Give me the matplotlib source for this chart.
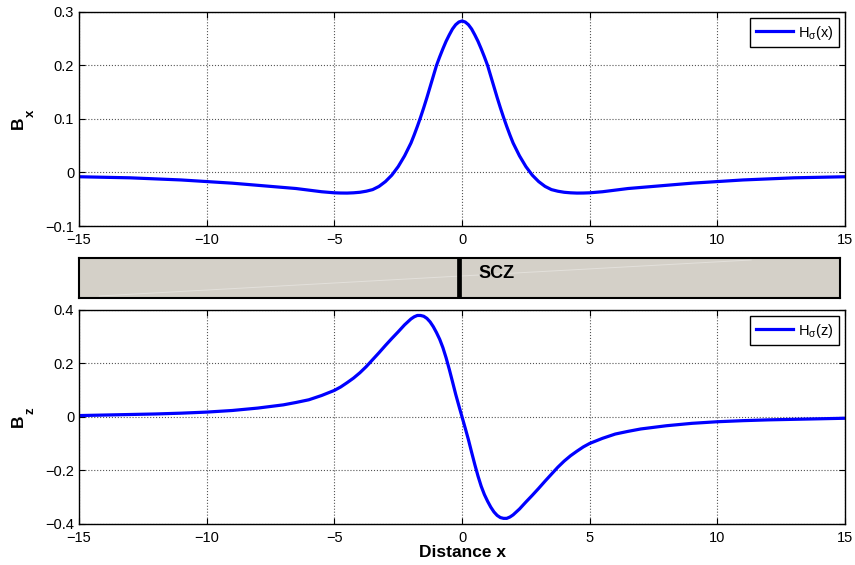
import matplotlib
matplotlib.use("Agg")
import matplotlib.pyplot as plt
import numpy as np

plt.rcParams["font.family"] = ["Liberation Sans", "DejaVu Sans"]
plt.rcParams["mathtext.fontset"] = "custom"
plt.rcParams["mathtext.rm"] = "Liberation Sans"
plt.rcParams["mathtext.it"] = "Liberation Sans"
plt.rcParams["mathtext.bf"] = "Liberation Sans:bold"

# values (right half, x >= 0)
x_half = [0, 0.125, 0.25, 0.375, 0.5, 0.625, 0.75, 0.875, 1.0, 1.125, 1.25, 1.375,
          1.5, 1.625, 1.75, 1.875, 2.0, 2.25, 2.5, 2.75, 3.0, 3.25, 3.5, 3.75,
          4.0, 4.25, 4.5, 4.75, 5.0, 5.5, 6, 6.5, 7, 8, 9, 10, 11, 12, 13, 14, 15]
bx_half = [0.283, 0.281, 0.276, 0.268, 0.257, 0.245, 0.231, 0.216, 0.200, 0.180,
           0.160, 0.140, 0.121, 0.103, 0.086, 0.070, 0.055, 0.031, 0.011, -0.005,
           -0.017, -0.026, -0.032, -0.035, -0.037, -0.038, -0.0385, -0.0384, -0.038,
           -0.036, -0.033, -0.030, -0.028, -0.024, -0.020, -0.017, -0.014, -0.012,
           -0.010, -0.009, -0.008]
bz_half = [0.0, -0.042, -0.085, -0.132, -0.178, -0.221, -0.259, -0.290, -0.315,
           -0.337, -0.355, -0.368, -0.376, -0.379, -0.379, -0.374, -0.366, -0.344,
           -0.318, -0.293, -0.267, -0.240, -0.214, -0.188, -0.165, -0.145, -0.128,
           -0.112, -0.099, -0.080, -0.064, -0.054, -0.045, -0.033, -0.024, -0.018,
           -0.014, -0.011, -0.009, -0.007, -0.005]

x = np.concatenate([-np.array(x_half[:0:-1]), x_half])
bx = np.concatenate([bx_half[:0:-1], bx_half])           # symmetric
bz = np.concatenate([-np.array(bz_half[:0:-1]), bz_half])  # antisymmetric

fig = plt.figure(figsize=(8.55, 5.65), dpi=100)
ax1 = fig.add_axes([0.0924, 0.600, 0.896, 0.379])
band = fig.add_axes([0.0924, 0.4726, 0.890, 0.0708])
ax2 = fig.add_axes([0.0924, 0.0726, 0.896, 0.379])


def style(ax):
    ax.grid(True, linestyle=":", color="#555555", linewidth=0.8)
    ax.tick_params(direction="in", top=True, right=True, length=4,
                   labelsize=10.5, width=0.8)
    ax.tick_params(axis="x", pad=5)
    ax.set_xlim(-15, 15)
    ax.set_xticks([-15, -10, -5, 0, 5, 10, 15])
    ax.set_xticklabels(["\u221215", "\u221210", "\u22125", "0", "5", "10", "15"])
    for s in ax.spines.values():
        s.set_linewidth(1.0)


ax1.plot(x, bx, color="#0000ff", linewidth=2.3, label=r"H$_\sigma$(x)",
         solid_joinstyle="round")
style(ax1)
ax1.set_ylim(-0.1, 0.3)
ax1.set_yticks([-0.1, 0, 0.1, 0.2, 0.3])
ax1.set_yticklabels(["\u22120.1", "0", "0.1", "0.2", "0.3"])

ax2.plot(x, bz, color="#0000ff", linewidth=2.3, label=r"H$_\sigma$(z)",
         solid_joinstyle="round")
style(ax2)
ax2.set_ylim(-0.4, 0.4)
ax2.set_yticks([-0.4, -0.2, 0, 0.2, 0.4])
ax2.set_yticklabels(["\u22120.4", "\u22120.2", "0", "0.2", "0.4"])
ax2.set_xlabel("Distance x", fontsize=12.5, fontweight="bold", labelpad=0)

# y labels: bold B with a lowered subscript (rotated)
for yc, sub in ((119, "x"), (417, "z")):
    fig.text(18 / 855, 1 - (yc + 3.5) / 565, "B", rotation=90, fontsize=12.5,
             fontweight="bold", ha="center", va="center")
    fig.text(30.5 / 855, 1 - (yc - 6) / 565, sub, rotation=90, fontsize=9.5,
             fontweight="bold", ha="center", va="center")

for ax in (ax1, ax2):
    leg = ax.legend(loc="upper right", fontsize=10.5, fancybox=False,
                    framealpha=1, edgecolor="black", handlelength=2.6,
                    handletextpad=0.3, borderpad=0.4, borderaxespad=0.4)
    leg.get_frame().set_linewidth(1.0)

# seismogenic zone strip
band.set_facecolor("#d4d0c8")
band.set_xlim(-15, 15)
band.set_ylim(0, 1)
band.set_xticks([])
band.set_yticks([])
for s in band.spines.values():
    s.set_linewidth(1.5)
band.plot([-14.2, 11.5], [0.05, 0.95], color="white", alpha=0.35, linewidth=0.7)
band.axvline(0, color="black", linewidth=3.4)
band.text(0.75, 0.62, "SCZ", fontsize=13, fontweight="bold", va="center", ha="left")

fig.savefig("out.png", dpi=100)
